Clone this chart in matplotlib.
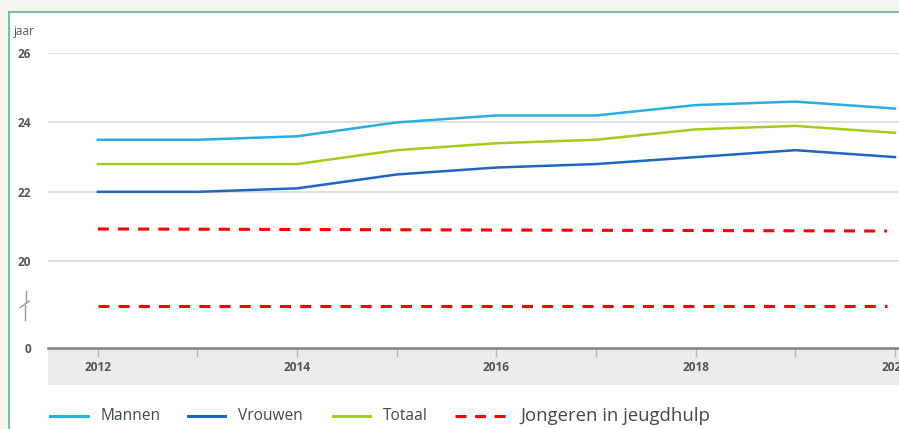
import matplotlib
matplotlib.use("Agg")
import matplotlib.pyplot as plt
from matplotlib.lines import Line2D
from matplotlib.patches import Rectangle

# ---- data ----
years = [2012, 2013, 2014, 2015, 2016, 2017, 2018, 2019, 2020]
mannen = [23.5, 23.5, 23.6, 24.0, 24.2, 24.2, 24.5, 24.6, 24.4]
vrouwen = [22.0, 22.0, 22.1, 22.5, 22.7, 22.8, 23.0, 23.2, 23.0]
totaal = [22.8, 22.8, 22.8, 23.2, 23.4, 23.5, 23.8, 23.9, 23.7]
jh_years = [2012, 2019.92]
jh_upper = [20.93, 20.87]
jh_lower = [18.7, 18.7]   # drawn in the broken (0-20) section
ytick_pos = [17.5, 20, 22, 24, 26]
ytick_labels = ["0", "20", "22", "24", "26"]
xtick_major = [2012, 2014, 2016, 2018, 2020]
xtick_minor = [2013, 2015, 2017, 2019]

W, H = 899, 429
plt.rcParams["font.family"] = ["Open Sans", "DejaVu Sans"]
fig = plt.figure(figsize=(W / 100, H / 100), dpi=100)
fig.patch.set_facecolor("#f5f4ef")


def fx(x):
    return x / W


def fy(y):
    return 1 - y / H


# white panel with teal border
fig.add_artist(Rectangle((fx(9), 0), 1 - fx(9), fy(12), transform=fig.transFigure,
                         facecolor="white", edgecolor="none", zorder=0))
fig.add_artist(Line2D([fx(9), fx(9)], [0, fy(12)], transform=fig.transFigure,
                      color="#79bfa6", lw=1.5, zorder=1))
fig.add_artist(Line2D([fx(9), 1], [fy(12), fy(12)], transform=fig.transFigure,
                      color="#79bfa6", lw=1.5, zorder=1))
# gray band under x axis
fig.add_artist(Rectangle((fx(48), fy(385)), 1 - fx(48), fy(349) - fy(385),
                         transform=fig.transFigure, facecolor="#ececec",
                         edgecolor="none", zorder=0.5))

ax = fig.add_axes([fx(48), fy(348), 1 - fx(48), fy(53) - fy(348)])
ax.set_zorder(3)
ax.set_facecolor("none")
ax.set_xlim(2011.5, 2020.04)
ax.set_ylim(17.5, 26)

for v in [20, 22, 24, 26]:
    ax.axhline(v, color="#d9d9d9", lw=1.2, zorder=1)

ax.plot(years, mannen, color="#2aaede", lw=1.8, zorder=3)
ax.plot(years, vrouwen, color="#1f66c1", lw=1.8, zorder=3)
ax.plot(years, totaal, color="#a5cb1c", lw=1.8, zorder=3)
ax.plot(jh_years, jh_upper, color="#ff0000", lw=2.2, ls=(0, (3.6, 3.0)), zorder=3)
ax.plot(jh_years, jh_lower, color="#ff0000", lw=2.2, ls=(0, (3.6, 3.0)), zorder=3)

for s in ["top", "right", "left"]:
    ax.spines[s].set_visible(False)
ax.spines["bottom"].set_color("#808080")
ax.spines["bottom"].set_linewidth(1.8)
ax.spines["bottom"].set_zorder(4)

ax.set_yticks(ytick_pos)
ax.set_yticklabels(ytick_labels)
ax.tick_params(axis="y", length=0, pad=12, labelsize=8.5, labelcolor="#555555")
for t in ax.get_yticklabels():
    t.set_fontweight("bold")

ax.set_xticks(xtick_major)
ax.set_xticklabels([str(y) for y in xtick_major])
ax.set_xticks(xtick_minor, minor=True)
ax.tick_params(axis="x", which="both", direction="out", length=6.5, width=1,
               color="#b5b5b5", labelsize=8.6, labelcolor="#555555", pad=3)
for t in ax.get_xticklabels():
    t.set_fontweight("bold")

# y label
fig.text(fx(14), fy(31), "jaar", fontsize=8.5, color="#555555", ha="left", va="center")

# axis break symbol
fig.add_artist(Line2D([fx(25.5), fx(25.5)], [fy(291), fy(302)], transform=fig.transFigure,
                      color="#9a9a9a", lw=1))
fig.add_artist(Line2D([fx(29.5), fx(20)], [fy(301), fy(307.5)], transform=fig.transFigure,
                      color="#9a9a9a", lw=1))
fig.add_artist(Line2D([fx(24.5), fx(24.5)], [fy(305), fy(320)], transform=fig.transFigure,
                      color="#9a9a9a", lw=1))

# legend
ly = 416
leg = [
    (50, 88, 100, "Mannen", "#2aaede"),
    (188, 225, 238, "Vrouwen", "#1f66c1"),
    (333, 370, 383, "Totaal", "#a5cb1c"),
]
for x0, x1, xt, lab, col in leg:
    fig.add_artist(Line2D([fx(x0), fx(x1)], [fy(ly), fy(ly)], transform=fig.transFigure,
                          color=col, lw=2.2))
    fig.text(fx(xt), fy(ly), lab, fontsize=11.2, color="#3d4a52", ha="left", va="center")
fig.add_artist(Line2D([fx(455), fx(508)], [fy(ly), fy(ly)], transform=fig.transFigure,
                      color="#ff0000", lw=2.2, ls=(0, (3.6, 2.8))))
fig.text(fx(520), fy(ly), "Jongeren in jeugdhulp", fontsize=13.3, color="#3d4a52",
         ha="left", va="center")

fig.savefig("out.png", dpi=100, facecolor=fig.get_facecolor())
